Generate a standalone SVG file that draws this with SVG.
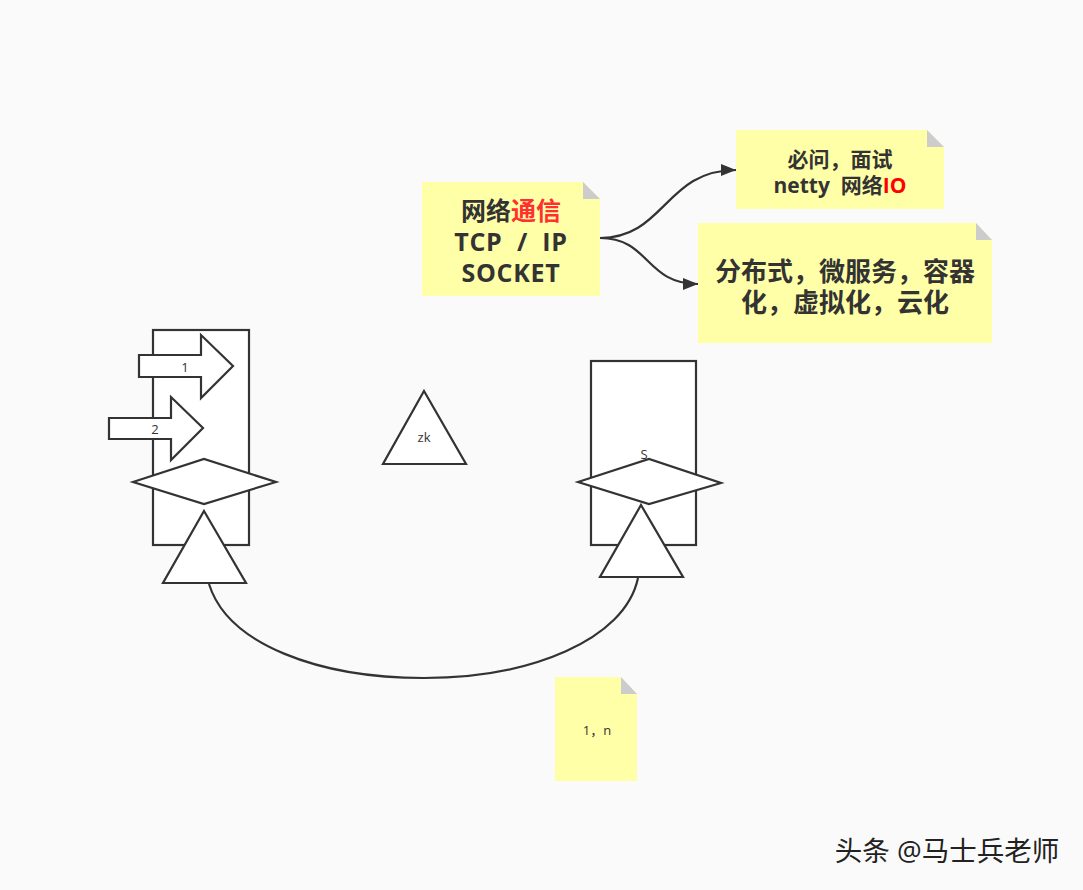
<svg xmlns="http://www.w3.org/2000/svg" width="1083" height="890" viewBox="0 0 1083 890">
<style>
text{font-family:"Open Sans","Noto Sans CJK SC",sans-serif;fill:#333;text-anchor:middle;white-space:pre}
.s{fill:#fff;stroke:#333;stroke-width:2.2}
.n{fill:#ffffa8}
.f{fill:#ccc}
.b{font-weight:700}
.l{font-size:13px}
.c{fill:none;stroke:#333;stroke-width:2.2}
.t{font-family:"Liberation Sans","Noto Sans CJK SC",sans-serif}
</style>
<defs><marker id="a" markerUnits="userSpaceOnUse" markerWidth="16" markerHeight="14" refX="15" refY="6" orient="auto"><path d="M0 0L15 6L0 12Z" fill="#333"/></marker></defs>
<rect width="1083" height="890" fill="#fafafa"/>
<g id="box-left"><rect class="s" x="153" y="330" width="96" height="215"/></g>
<g id="box-right"><rect class="s" x="591" y="361" width="105" height="184"/><text class="l" x="644" y="459">S</text></g>
<g id="arrow-1"><path class="s" d="M139 355H201V335L233 366L201 398V377H139Z"/><text class="l" x="185" y="372">1</text></g>
<g id="arrow-2"><path class="s" d="M109 418H171V397L203 428L171 460V439H109Z"/><text class="l" x="155" y="434">2</text></g>
<g id="diamond-left"><path class="s" d="M133 482L204 459L276 482L204 504Z"/></g>
<g id="diamond-right"><path class="s" d="M578 482L649 459L721 483L649 504Z"/></g>
<g id="triangle-left"><path class="s" d="M204 511L246 583H163Z"/></g>
<g id="triangle-right"><path class="s" d="M641 505L683 577H600Z"/></g>
<g id="triangle-zk"><path class="s" d="M424 391L466 464H383Z"/><text class="l" x="424" y="442">zk</text></g>
<g id="connectors">
<path class="c" d="M209 584C228 645 320 678 424 678C530 678 625 640 638 578"/>
<path class="c" marker-end="url(#a)" d="M600 238C665 238 665 170 736 170"/>
<path class="c" marker-end="url(#a)" d="M600 238C650 238 645 284 698 284"/>
</g>
<g id="note-net"><path class="n" d="M422 182H583L600 199V296H422Z"/><path class="f" d="M583 182L600 199H583Z"/>
<text class="b" font-size="25"><tspan x="511" y="220">网络<tspan fill="#ff3030">通信</tspan></tspan><tspan x="511" y="251" letter-spacing="0.7">TCP  /  IP</tspan><tspan x="511" y="282" letter-spacing="0.7">SOCKET</tspan></text></g>
<g id="note-ask"><path class="n" d="M736 130H927L944 147V209H736Z"/><path class="f" d="M927 130L944 147H927Z"/>
<text class="b" font-size="21"><tspan x="840" y="167">必问，面试</tspan><tspan x="840" y="193">netty  网络<tspan fill="#f00">IO</tspan></tspan></text></g>
<g id="note-dist"><path class="n" d="M698 223H976L992 240V343H698Z"/><path class="f" d="M976 223L992 240H976Z"/>
<text class="b t" font-size="26"><tspan x="845" y="281">分布式，微服务，容器</tspan><tspan x="845" y="312">化，虚拟化，云化</tspan></text></g>
<g id="note-1n"><path class="n" d="M555 677H621L637 694V781H555Z"/><path class="f" d="M621 677L637 694H621Z"/>
<text class="l" x="597" y="735">1，n</text></g>
<text x="947" y="861" font-size="27.5" style="fill:#222">头条 @马士兵老师</text>
</svg>
